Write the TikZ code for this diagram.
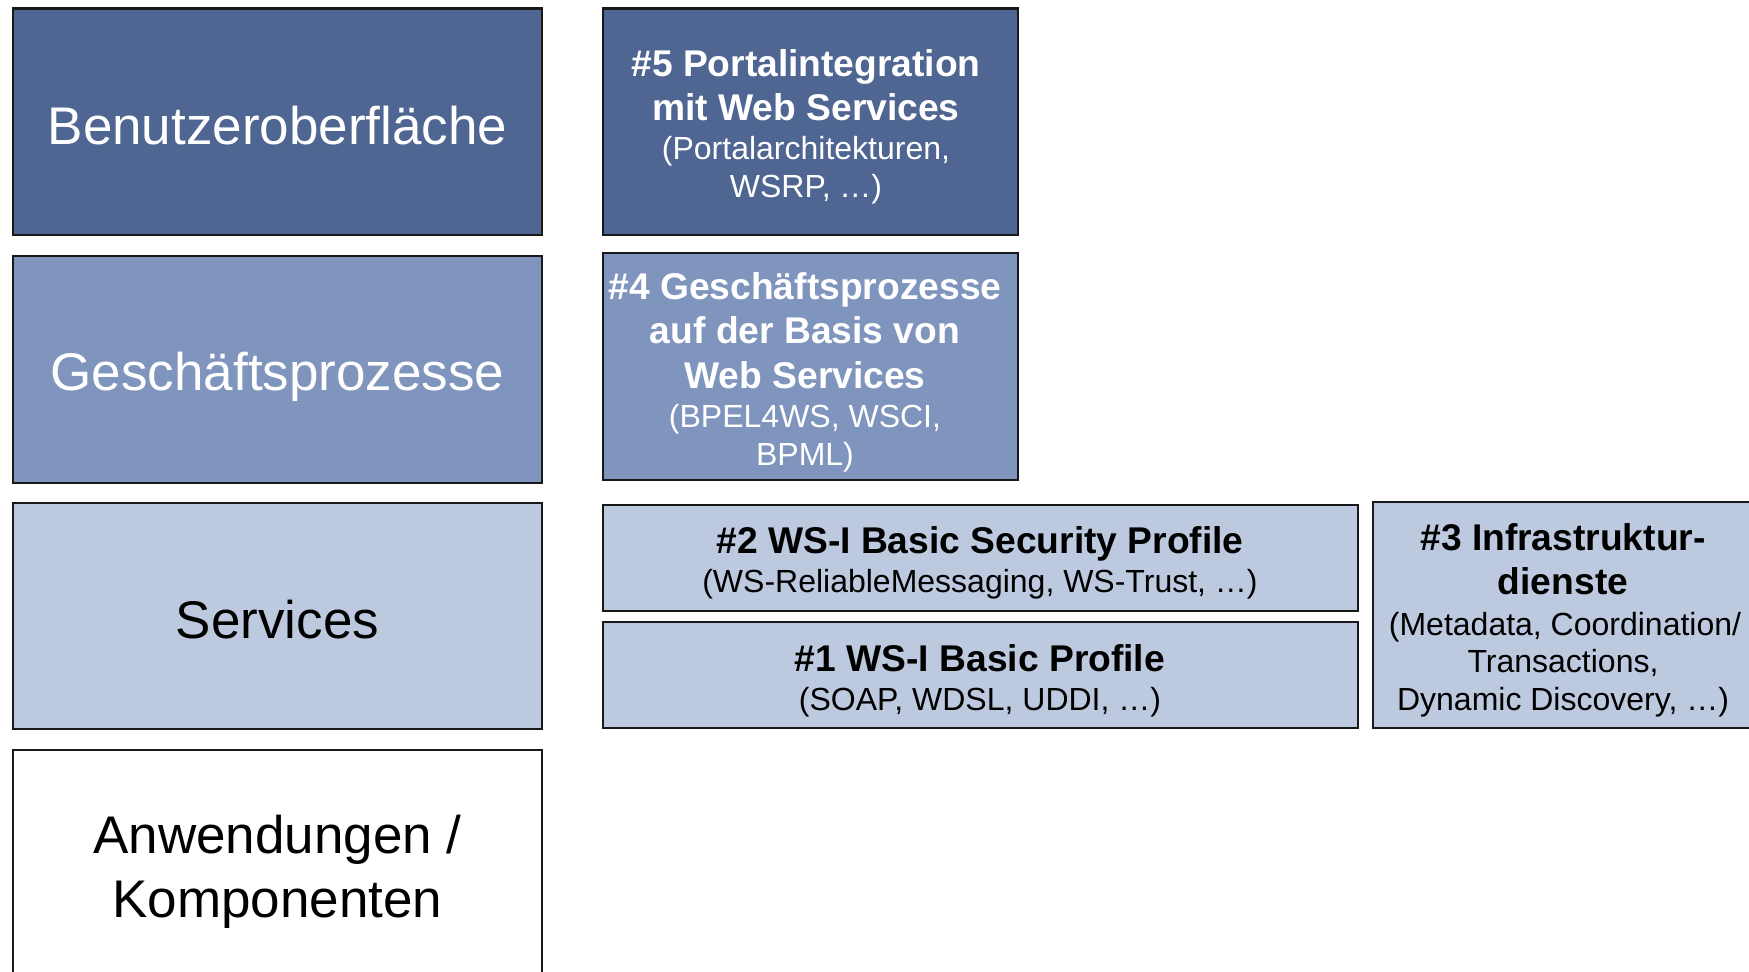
\documentclass[tikz,border=0pt]{standalone}
\usepackage{fontspec}
\setmainfont{Liberation Sans}
\definecolor{dkblue}{HTML}{4F6592}
\definecolor{mdblue}{HTML}{7F95BD}
\definecolor{ltblue}{HTML}{BDC9DE}
\begin{document}
\begin{tikzpicture}[x=0.5pt,y=-0.5pt,
  box/.style={draw=black!90, line width=1.1pt, inner sep=0pt, outer sep=0pt},
  big/.style={font=\fontsize{26.5}{31}\selectfont, anchor=base, inner sep=0pt},
  head/.style={font=\fontsize{18.6}{22}\selectfont\bfseries, anchor=base, inner sep=0pt},
  sub/.style={font=\fontsize{16}{19}\selectfont, anchor=base, inner sep=0pt},
]
\useasboundingbox (0,0) rectangle (1749,971);

% left column
\node[box, fill=dkblue, minimum width=264.5pt, minimum height=113.25pt] (ui) at (277.5,121.75) {};
\node[box, fill=mdblue, minimum width=264.5pt, minimum height=113.5pt] (gp) at (277.5,369.5) {};
\node[box, fill=ltblue, minimum width=264.5pt, minimum height=113pt] (sv) at (277.5,616) {};
\node[box, fill=white, minimum width=264.5pt, minimum height=117.5pt] (ak) at (277.5,867.5) {};

\node[big, text=white] (tui) at (277.5,144) {Benutzeroberfläche};
\node[big, text=white] (tgp) at (277.5,390.5) {Geschäftsprozesse};
\node[big] (tsv) at (277.5,638) {Services};
\node[big] (tak1) at (277.5,853) {Anwendungen /};
\node[big] (tak2) at (277.5,917) {Komponenten};

% right column
\node[box, fill=dkblue, minimum width=207.5pt, minimum height=113.25pt] (b5) at (810.5,121.75) {};
\node[box, fill=mdblue, minimum width=207.5pt, minimum height=113.5pt] (b4) at (810.5,366.5) {};
\node[box, fill=ltblue, minimum width=377.5pt, minimum height=53pt] (b2) at (980.5,558) {};
\node[box, fill=ltblue, minimum width=377.5pt, minimum height=53pt] (b1) at (980.5,675) {};
\node[box, fill=ltblue, minimum width=193.5pt, minimum height=113pt] (b3) at (1566.5,615) {};

% #5
\node[head, text=white] (t5a) at (806,76) {\#5 Portalintegration};
\node[head, text=white] (t5b) at (806,120) {mit Web Services};
\node[sub, text=white] (t5c) at (806,159) {(Portalarchitekturen,};
\node[sub, text=white] (t5d) at (806,197) {WSRP, …)};

% #4
\node[head, text=white] (t4a) at (805,299) {\#4 Geschäftsprozesse};
\node[head, text=white] (t4b) at (805,343.5) {auf der Basis von};
\node[head, text=white] (t4c) at (805,388.5) {Web Services};
\node[sub, text=white] (t4d) at (805,427.5) {(BPEL4WS, WSCI,};
\node[sub, text=white] (t4e) at (805,465.5) {BPML)};

% #2
\node[head] (t2a) at (980,553.5) {\#2 WS-I Basic Security Profile};
\node[sub] (t2b) at (980,592.5) {(WS-ReliableMessaging, WS-Trust, …)};

% #1
\node[head] (t1a) at (980,671.5) {\#1 WS-I Basic Profile};
\node[sub] (t1b) at (980,710.5) {(SOAP, WDSL, UDDI, …)};

% #3
\node[head] (t3a) at (1563,550) {\#3 Infrastruktur-};
\node[head] (t3b) at (1563,594.5) {dienste};
\node[sub] (t3c) at (1565,635) {(Metadata, Coordination/};
\node[sub] (t3d) at (1563,672.5) {Transactions,};
\node[sub] (t3e) at (1563,710.5) {Dynamic Discovery, …)};
\end{tikzpicture}
\end{document}
